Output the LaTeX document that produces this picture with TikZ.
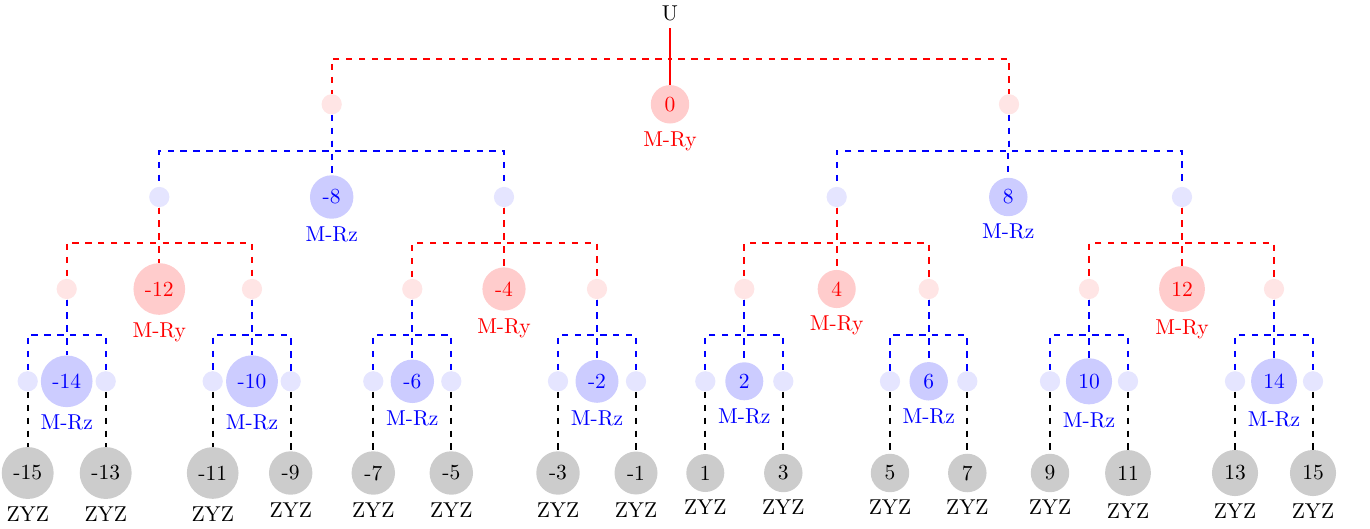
\documentclass[tikz,border=0pt]{standalone}
\usetikzlibrary{calc}

\tikzset{
  ry/.style={circle, fill=red!20, text=red, label={[text=red]below:M-Ry}},
  rz/.style={circle, fill=blue!20, text=blue, label={[text=blue]below:M-Rz}},
  zyz/.style={circle, fill=black!20, label={below:ZYZ}},
  rdot/.style={circle, fill=red!10},
  bdot/.style={circle, fill=blue!10},
  link/.style={line width=0.8pt},
  redge/.style={link, draw=red, dashed},
  bedge/.style={link, draw=blue, dashed},
  kedge/.style={link, draw=black, dashed},
}
% elbow connector: down to half height, across, down to the child
\newcommand\forkedge[3]{%
  \coordinate (#2-#3-mid) at ($(#2)!.5!(#3)$);
  \draw[#1] (#2.south) -- (#2.south |- #2-#3-mid) -- (#3.north |- #2-#3-mid) -- (#3.north);
}

\begin{document}
\begin{tikzpicture}[x=0.4651pt, y=-0.4651pt]
\useasboundingbox (0,0) rectangle (1370,529);

% root
\node (u) at (670,13) {U};

% level 1
\node[rdot] (a)  at (331.7,104.3) {};
\node[ry]   (n0) at (670,104.3) {0};
\node[rdot] (b)  at (1009,104.3) {};

% level 2
\node[bdot] (aa) at (159.3,197) {};
\node[rz]   (m8) at (331.7,197) {-8};
\node[bdot] (ab) at (504,197) {};
\node[bdot] (ba) at (836.7,197) {};
\node[rz]   (p8) at (1008.3,197) {8};
\node[bdot] (bb) at (1182,197) {};

% level 3
\node[rdot] (aaa) at (66.7,289) {};
\node[ry]   (m12) at (159.3,289) {-12};
\node[rdot] (aab) at (252,289) {};
\node[rdot] (aba) at (412.3,289) {};
\node[ry]   (m4)  at (504,289) {-4};
\node[rdot] (abb) at (597,289) {};
\node[rdot] (baa) at (744.3,289) {};
\node[ry]   (p4)  at (836.7,289) {4};
\node[rdot] (bab) at (928.7,289) {};
\node[rdot] (bba) at (1089,289) {};
\node[ry]   (p12) at (1182,289) {12};
\node[rdot] (bbb) at (1274,289) {};

% level 4: M-Rz nodes and their side dots
\node[rz] (m14) at (66.7,381.3) {-14};
\node[rz] (m10) at (252,381.3) {-10};
\node[rz] (m6)  at (412.3,381.3) {-6};
\node[rz] (m2)  at (597,381.3) {-2};
\node[rz] (p2)  at (744.3,381.3) {2};
\node[rz] (p6)  at (928.7,381.3) {6};
\node[rz] (p10) at (1089,381.3) {10};
\node[rz] (p14) at (1274,381.3) {14};

\foreach \i/\x in {1/27.7, 2/105.7, 3/212.7, 4/290.7, 5/373.3, 6/451.3, 7/558, 8/636,
                   9/705.3, 10/783.3, 11/890, 12/967.3, 13/1050, 14/1128, 15/1235, 16/1313}
  \node[bdot] (s\i) at (\x,381.3) {};

% level 5: ZYZ leaves
\foreach \i/\x/\v in {1/27.7/-15, 2/105.7/-13, 3/212.7/-11, 4/290.7/-9,
                      5/373.3/-7, 6/451.3/-5, 7/558/-3, 8/636/-1,
                      9/705.3/1, 10/783.3/3, 11/890/5, 12/967.3/7,
                      13/1050/9, 14/1128/11, 15/1235/13, 16/1313/15}
  \node[zyz] (l\i) at (\x,473) {\v};

% connectors
\forkedge{redge}{u}{a}
\forkedge{redge}{u}{b}
\draw[link, red] (u.south) -- (n0.north);

\foreach \p/\c in {a/aa, a/m8, a/ab, b/ba, b/p8, b/bb,
                   aaa/s1, aaa/m14, aaa/s2, aab/s3, aab/m10, aab/s4,
                   aba/s5, aba/m6, aba/s6, abb/s7, abb/m2, abb/s8,
                   baa/s9, baa/p2, baa/s10, bab/s11, bab/p6, bab/s12,
                   bba/s13, bba/p10, bba/s14, bbb/s15, bbb/p14, bbb/s16}
  {\forkedge{bedge}{\p}{\c}}

\foreach \p/\c in {aa/aaa, aa/m12, aa/aab, ab/aba, ab/m4, ab/abb,
                   ba/baa, ba/p4, ba/bab, bb/bba, bb/p12, bb/bbb}
  {\forkedge{redge}{\p}{\c}}

\foreach \i in {1,...,16}
  \draw[kedge] (s\i.south) -- (l\i.north);
\end{tikzpicture}
\end{document}
